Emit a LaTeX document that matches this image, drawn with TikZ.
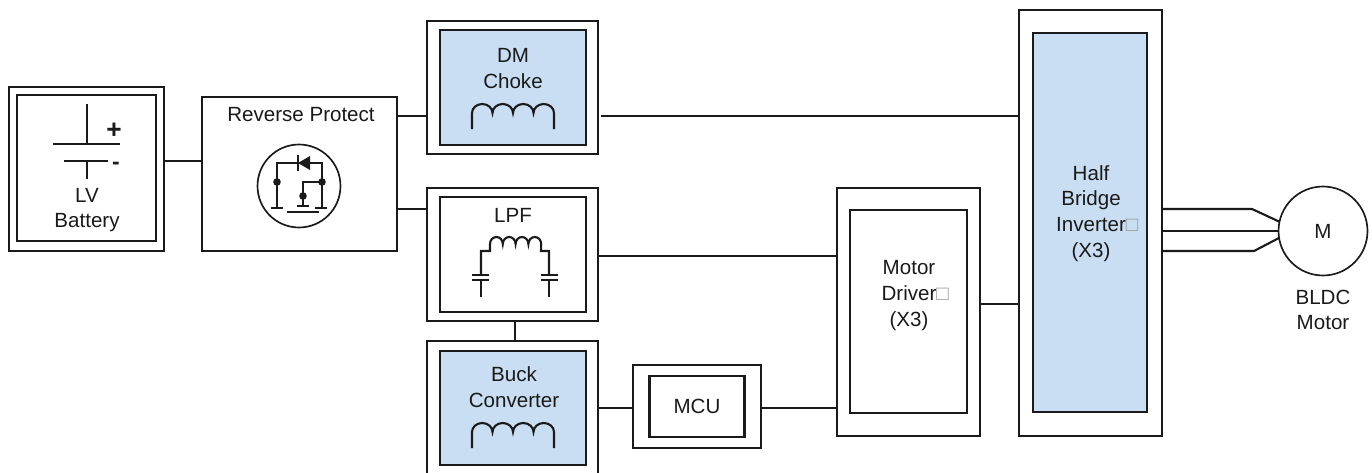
\documentclass[tikz,border=0pt]{standalone}
\usepackage{fontspec}
\setmainfont{Liberation Sans}
\usepackage{xcolor}
\usepackage{tikz}
\usetikzlibrary{arrows.meta,calc,positioning}
\definecolor{blokMavi}{HTML}{C9DEF3}
\definecolor{kutuGri}{HTML}{1A1A1A}
\definecolor{yaziGri}{HTML}{1A1A1A}
\definecolor{bosGri}{HTML}{999999}
\newcommand{\bosKutu}{\rlap{\textcolor{bosGri}{□}}}
\tikzset{
  outerbox/.style={draw=kutuGri,line width=1.2pt,fill=white,inner sep=0pt,outer sep=0pt},
  innerbox/.style={outerbox},
  bluebox/.style={outerbox,fill=blokMavi},
  wire/.style={draw=kutuGri,line width=1.2pt},
  thinwire/.style={draw=kutuGri,line width=0.95pt},
  lbl/.style={text=yaziGri,font=\fontsize{11.7}{14.6}\selectfont,align=center,inner sep=0pt}
}
\begin{document}
\begin{tikzpicture}[x=0.02cm,y=-0.02cm]
\useasboundingbox (0,0) rectangle (1372,473);
\clip (0,0) rectangle (1372,473);
% battery
\node[outerbox,minimum width=3.1cm,minimum height=3.28cm] (batteryOuter) at (86.5,169) {};
\node[innerbox,minimum width=2.78cm,minimum height=2.92cm] (batteryInner) at (86.5,168) {};
\draw[wire] (87,104)--(87,144) (53,144)--(120,144);
\draw[wire] (64,161)--(108,161) (87,161)--(87,179);
\node[lbl,font=\fontsize{15}{15}\selectfont\bfseries] (plusSign) at (114,131) {+};
\node[lbl,font=\fontsize{13}{15}\selectfont\bfseries] (minusSign) at (116,165.5) {-};
\node[lbl] (batteryText) at (87,210) {LV\\Battery};
% reverse protection
\node[outerbox,minimum width=3.9cm,minimum height=3.08cm] (reverseBox) at (299.5,174) {};
\node[lbl] (reverseText) at (301,115) {Reverse Protect};
\node[thinwire,draw,circle,inner sep=0pt,outer sep=0pt,minimum size=1.66cm] (fetCircle) at (299,186) {};
\draw[thinwire] (277,208)--(277,163)--(322,163)--(322,208);
\draw[thinwire] (322,182)--(303,182)--(303,206);
\draw[thinwire] (271,208)--(283,208) (315,208)--(327,208) (297,206)--(309,206) (287,212)--(319,212);
\draw[thinwire] (298,155)--(298,171);
\fill[kutuGri] (298,163)--(310,156)--(310,170)--cycle;
\foreach \px/\py in {277/182,322/182,303/196} \fill[kutuGri] (\px,\py) circle[radius=3.8];
% dm choke
\node[outerbox,minimum width=3.42cm,minimum height=2.66cm] (chokeOuter) at (512.5,87.5) {};
\node[bluebox,minimum width=2.92cm,minimum height=2.3cm] (chokeInner) at (513,87.5) {};
\node[lbl] (chokeText) at (513,68.5) {DM\\Choke};
\draw[wire] (472,129)--(472,113) \foreach \i in {1,2,3,4} {arc[start angle=180,end angle=360,x radius=10.25,y radius=9]}--(554,129);
% lpf
\node[outerbox,minimum width=3.42cm,minimum height=2.66cm] (lpfOuter) at (512.5,254.5) {};
\node[innerbox,minimum width=2.92cm,minimum height=2.3cm] (lpfInner) at (513,254.5) {};
\node[lbl] (lpfText) at (513,215) {LPF};
\draw[wire] (481,275)--(481,251)--(490,251)--(490,244) \foreach \i in {1,2,3,4} {arc[start angle=180,end angle=360,x radius=6.4,y radius=7]}--(541,251)--(549,251)--(549,275);
\draw[wire] (472,275)--(489,275) (472,280)--(489,280) (481,280)--(481,297);
\draw[wire] (541,275)--(558,275) (541,280)--(558,280) (549,280)--(549,297);
% buck converter
\node[outerbox,minimum width=3.42cm,minimum height=2.8cm] (buckOuter) at (512.5,411) {};
\node[bluebox,minimum width=2.92cm,minimum height=2.28cm] (buckInner) at (513,408) {};
\node[lbl] (buckText) at (514,387) {Buck\\Converter};
\draw[wire] (472,448)--(472,432) \foreach \i in {1,2,3,4} {arc[start angle=180,end angle=360,x radius=10.25,y radius=9]}--(554,448);
% mcu
\node[outerbox,minimum width=2.56cm,minimum height=1.66cm] (mcuOuter) at (697,406.5) {};
\node[innerbox,minimum width=1.9cm,minimum height=1.22cm] (mcuInner) at (697,406.5) {};
\node[lbl] (mcuText) at (697,406) {MCU};
% motor driver
\node[outerbox,minimum width=2.86cm,minimum height=4.96cm] (driverOuter) at (908.5,312) {};
\node[innerbox,minimum width=2.34cm,minimum height=4.06cm] (driverInner) at (908.5,311.5) {};
\node[lbl] (driverText) at (909,295.5) {Motor\\Driver\bosKutu\\(X3)};
% half bridge
\node[outerbox,minimum width=2.86cm,minimum height=8.52cm] (inverterOuter) at (1090.5,223) {};
\node[bluebox,minimum width=2.28cm,minimum height=7.58cm] (inverterInner) at (1090,222.5) {};
\node[lbl] (inverterText) at (1091,213.5) {Half\\Bridge\\Inverter\bosKutu\\(X3)};
% motor
\node[thinwire,draw,circle,inner sep=0pt,outer sep=0pt,minimum size=1.78cm] (motorCircle) at (1323,231) {};
\node[lbl] (motorText) at (1323,231) {M};
\node[lbl] (bldcText) at (1323,310) {BLDC\\Motor};
% connectors
\coordinate (levelBattery) at (0,161);
\coordinate (levelChoke) at (0,116);
\coordinate (levelReverse) at (0,209);
\coordinate (levelLpf) at (0,256);
\coordinate (levelMcu) at (0,408);
\coordinate (levelDriver) at (0,304);
\coordinate (levelPhaseA) at (0,209);
\coordinate (levelPhaseB) at (0,231);
\coordinate (levelPhaseC) at (0,251);
\coordinate (feedX) at (515,0);
\draw[wire] (batteryOuter.east |- levelBattery)--(reverseBox.west |- levelBattery);
\draw[wire] (reverseBox.east |- levelChoke)--(chokeOuter.west |- levelChoke);
\draw[wire] (reverseBox.east |- levelReverse)--(lpfOuter.west |- levelReverse);
\draw[wire,shorten <=0.06cm] (chokeOuter.east |- levelChoke)--(inverterOuter.west |- levelChoke);
\draw[wire] (lpfOuter.east |- levelLpf)--(driverOuter.west |- levelLpf);
\draw[wire] (feedX |- lpfOuter.south)--(feedX |- buckOuter.north);
\draw[wire] (buckOuter.east |- levelMcu)--(mcuOuter.west |- levelMcu);
\draw[wire] (mcuOuter.east |- levelMcu)--(driverOuter.west |- levelMcu);
\draw[wire] (driverOuter.east |- levelDriver)--(inverterOuter.west |- levelDriver);
\draw[wire] (inverterOuter.east |- levelPhaseA)--(1252,209)--(motorCircle.168);
\draw[wire] (inverterOuter.east |- levelPhaseB)--(motorCircle.west);
\draw[wire] (inverterOuter.east |- levelPhaseC)--(1254,251)--(motorCircle.189);
\end{tikzpicture}
\end{document}
